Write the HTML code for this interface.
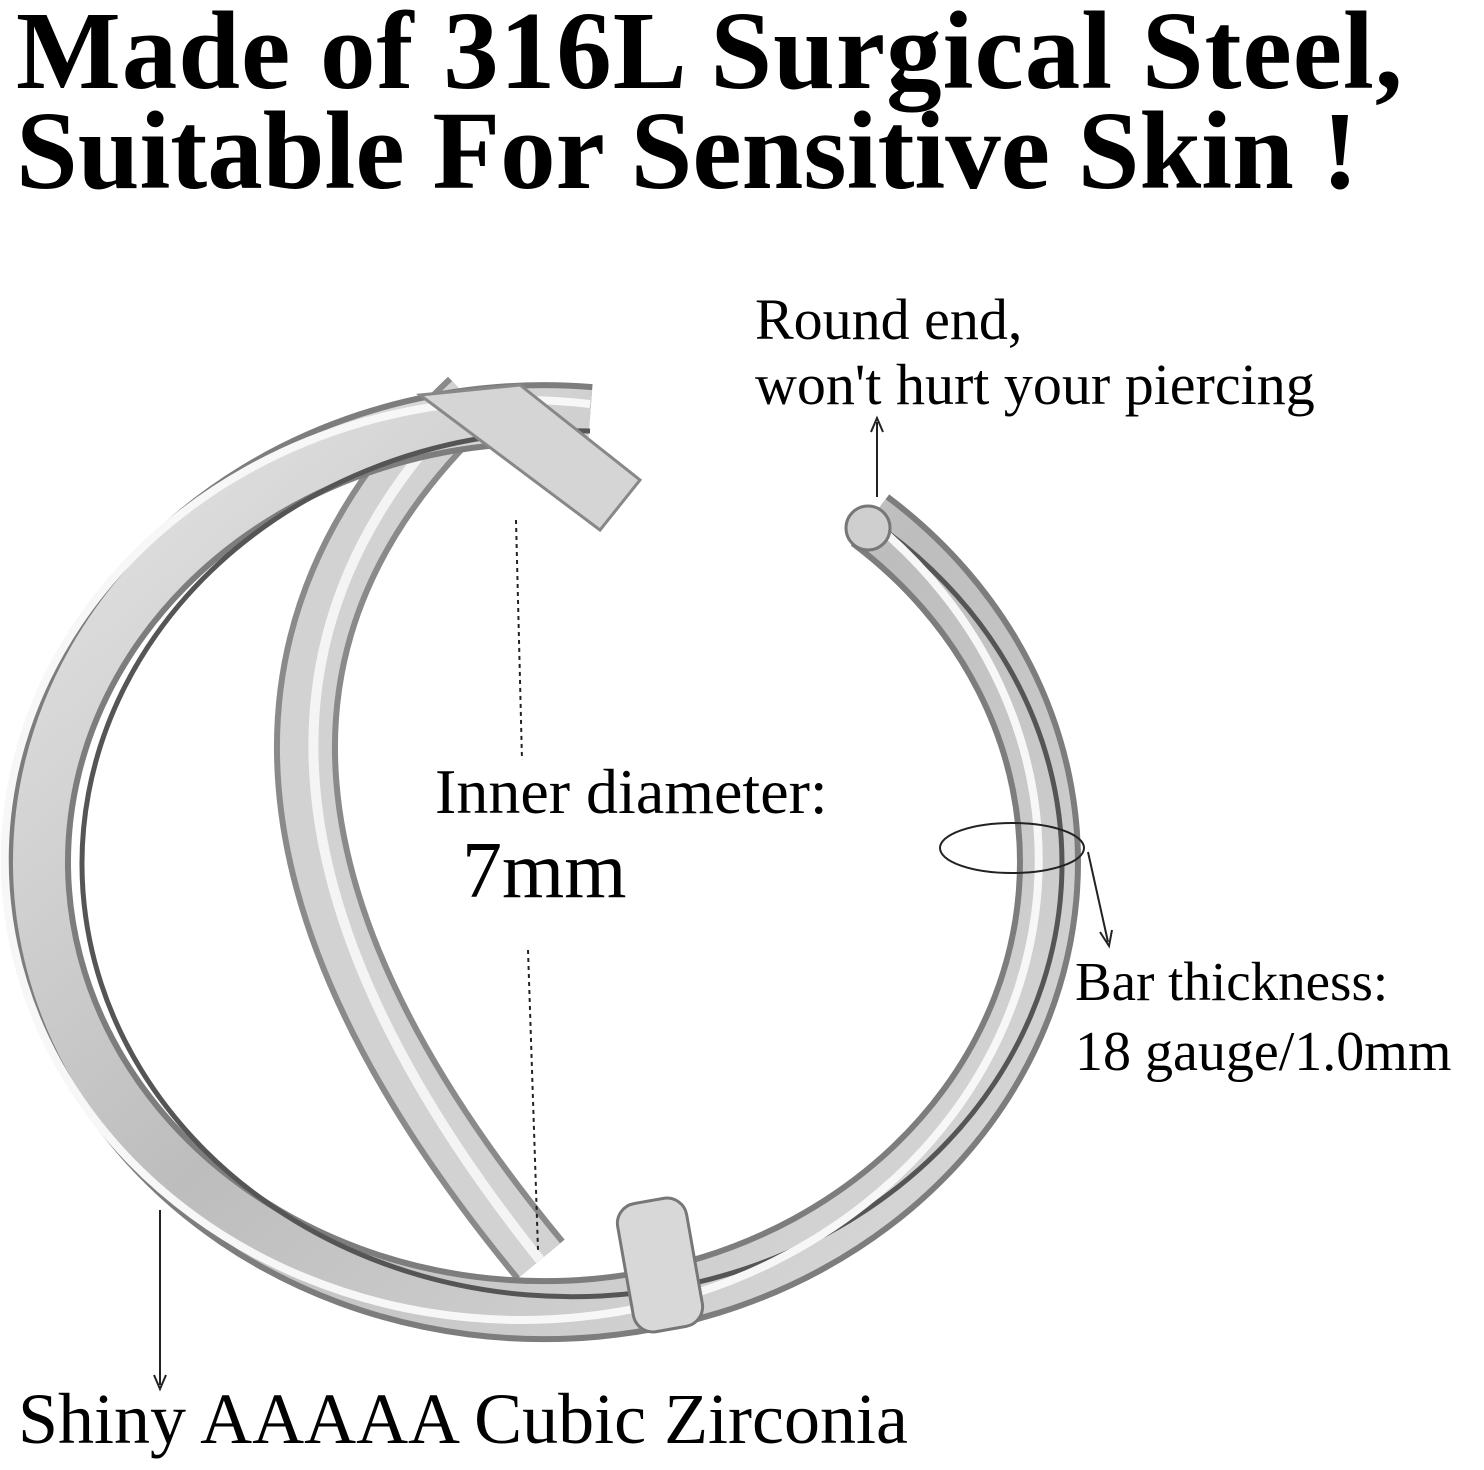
<!DOCTYPE html>
<html><head><meta charset="utf-8"><style>
html,body{margin:0;padding:0;background:#fff;}
body{width:1484px;height:1470px;position:relative;overflow:hidden;font-family:"Liberation Serif",serif;}
.t{position:absolute;white-space:nowrap;color:#000;}
.h{font-weight:bold;font-size:111px;left:16px;letter-spacing:1px;}
</style></head><body>
<svg width="1484" height="1470" style="position:absolute;left:0;top:0">
<defs>
<linearGradient id="g" x1="0" y1="0" x2="1" y2="1">
<stop offset="0" stop-color="#e6e6e6"/><stop offset="0.5" stop-color="#bdbdbd"/><stop offset="1" stop-color="#dcdcdc"/>
</linearGradient>
</defs>
<path d="M470 400 Q110 740 540 1260" fill="none" stroke="#8a8a8a" stroke-width="64"/>
<path d="M470 400 Q110 740 540 1260" fill="none" stroke="#d2d2d2" stroke-width="52"/>
<path d="M470 400 Q125 740 540 1260" fill="none" stroke="#f4f4f4" stroke-width="10"/>
<path d="M870 520 A505 448 0 1 1 590 416" fill="none" stroke="#7d7d7d" stroke-width="64"/>
<path d="M870 520 A505 448 0 1 1 590 416" fill="none" stroke="url(#g)" stroke-width="52"/>
<path d="M870 520 A490 433 0 1 1 590 431" fill="none" stroke="#555" stroke-width="5"/>
<path d="M870 520 A517 460 0 1 1 590 404" fill="none" stroke="#f7f7f7" stroke-width="8"/>
<circle cx="868" cy="528" r="22" fill="#cfcfcf" stroke="#777" stroke-width="3"/>
<path d="M420 395 L520 385 L640 480 L600 530 Z" fill="#d5d5d5" stroke="#888" stroke-width="3"/>
<rect x="625" y="1200" width="70" height="130" rx="20" fill="#d8d8d8" stroke="#777" stroke-width="3" transform="rotate(-10 660 1265)"/>
<line x1="516" y1="520" x2="522" y2="760" stroke="#222" stroke-width="2" stroke-dasharray="4 4"/>
<line x1="528" y1="950" x2="538" y2="1250" stroke="#222" stroke-width="2" stroke-dasharray="4 4"/>
<line x1="877" y1="497" x2="877" y2="422" stroke="#222" stroke-width="2"/>
<path d="M871 432 L877 418 L883 432" fill="none" stroke="#222" stroke-width="2"/>
<ellipse cx="1012" cy="848" rx="72" ry="25" fill="none" stroke="#222" stroke-width="2"/>
<line x1="1088" y1="852" x2="1108" y2="942" stroke="#222" stroke-width="2"/>
<path d="M1100 932 L1109 946 L1112 930" fill="none" stroke="#222" stroke-width="2"/>
<line x1="160" y1="1210" x2="160" y2="1385" stroke="#222" stroke-width="2"/>
<path d="M154 1375 L160 1389 L166 1375" fill="none" stroke="#222" stroke-width="2"/>
</svg>
<div class="t h" style="top:-12px">Made of 316L Surgical Steel,</div>
<div class="t h" style="top:88px;letter-spacing:0">Suitable For Sensitive Skin !</div>
<div class="t" style="left:755px;top:286px;font-size:58px">Round end,</div>
<div class="t" style="left:755px;top:351px;font-size:58px">won't hurt your piercing</div>
<div class="t" style="left:435px;top:755px;font-size:64px">Inner diameter:</div>
<div class="t" style="left:462px;top:826px;font-size:80px">7mm</div>
<div class="t" style="left:1075px;top:950px;font-size:55px">Bar thickness:</div>
<div class="t" style="left:1075px;top:1020px;font-size:56px">18 gauge/1.0mm</div>
<div class="t" style="left:18px;top:1378px;font-size:72px">Shiny AAAAA Cubic Zirconia</div>
</body></html>
